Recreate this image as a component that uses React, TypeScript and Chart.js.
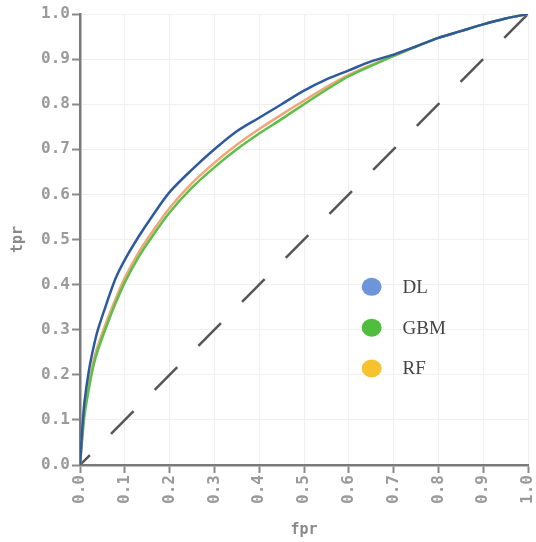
import React, { useEffect, useRef } from 'react';
import { Chart, registerables } from 'chart.js';

Chart.register(...registerables);

// False positive rate grid shared by the three ROC curves
const fprValues = [0, 0.005, 0.01, 0.02, 0.03, 0.04, 0.06, 0.08, 0.1, 0.13, 0.16, 0.2, 0.25, 0.3, 0.35, 0.4, 0.45, 0.5, 0.55, 0.6, 0.65, 0.7, 0.75, 0.8, 0.85, 0.9, 0.95, 1.0];
const tprDL = [0, 0.08, 0.14, 0.21, 0.26, 0.3, 0.36, 0.415, 0.455, 0.505, 0.55, 0.605, 0.655, 0.7, 0.74, 0.77, 0.8, 0.83, 0.855, 0.875, 0.895, 0.91, 0.928, 0.947, 0.962, 0.977, 0.99, 1.0];
const tprGBM = [0, 0.06, 0.11, 0.17, 0.22, 0.255, 0.31, 0.36, 0.405, 0.46, 0.505, 0.56, 0.615, 0.66, 0.7, 0.735, 0.767, 0.8, 0.832, 0.862, 0.885, 0.907, 0.928, 0.947, 0.962, 0.977, 0.99, 1.0];
const tprRF = [0, 0.065, 0.12, 0.18, 0.23, 0.265, 0.32, 0.37, 0.415, 0.47, 0.515, 0.57, 0.625, 0.67, 0.71, 0.745, 0.777, 0.808, 0.838, 0.865, 0.887, 0.907, 0.928, 0.947, 0.962, 0.977, 0.99, 1.0];
const diagonalValues = [0, 1];

const seriesNames = ['DL', 'GBM', 'RF'];
const lineColors = ['#2d5a9e', '#5cbf48', '#f0a678'];
const legendColors = ['#6e95da', '#4fbd3d', '#f6c22e'];

const tickFont = { family: "'DejaVu Sans Mono', monospace", size: 16, weight: 'bold' as const };
const titleFont = { family: "'DejaVu Sans Mono', monospace", size: 15, weight: 'bold' as const };

const innerLegend = {
  id: 'innerLegend',
  afterDraw(chart: any) {
    const { ctx, chartArea } = chart;
    const w = chartArea.right - chartArea.left;
    const h = chartArea.bottom - chartArea.top;
    const cx = chartArea.left + w * 0.651;
    const tx = chartArea.left + w * 0.72;
    const y0 = chartArea.top + h * 0.605;
    const step = h * 0.0905;
    ctx.save();
    seriesNames.forEach((name, i) => {
      const cy = y0 + i * step;
      ctx.beginPath();
      ctx.ellipse(cx, cy, 10, 9, 0, 0, Math.PI * 2);
      ctx.fillStyle = legendColors[i];
      ctx.fill();
      ctx.fillStyle = '#444';
      ctx.font = "19px 'Liberation Serif', serif";
      ctx.textBaseline = 'middle';
      ctx.textAlign = 'left';
      ctx.fillText(name, tx, cy + 1);
    });
    ctx.restore();
  },
};

export default function App() {
  const ref = useRef<HTMLCanvasElement>(null);
  useEffect(() => {
    if (!ref.current) return;
    const mk = (arr: number[]) => fprValues.map((f, i) => ({ x: f, y: arr[i] }));
    const chart = new Chart(ref.current, {
      type: 'line',
      data: {
        datasets: [
          { label: 'DL', data: mk(tprDL), borderColor: lineColors[0], borderWidth: 2.5, pointRadius: 0, tension: 0.3 },
          { label: 'GBM', data: mk(tprGBM), borderColor: lineColors[1], borderWidth: 2.5, pointRadius: 0, tension: 0.3 },
          { label: 'RF', data: mk(tprRF), borderColor: lineColors[2], borderWidth: 2.5, pointRadius: 0, tension: 0.3 },
          {
            label: 'diag',
            data: diagonalValues.map((v) => ({ x: v, y: v })),
            borderColor: '#555',
            borderWidth: 2.5,
            borderDash: [32, 30],
            borderDashOffset: 18,
            pointRadius: 0,
          },
        ],
      },
      options: {
        animation: false,
        responsive: false,
        layout: { padding: { top: 14, right: 8, left: 0, bottom: 0 } },
        plugins: { legend: { display: false }, tooltip: { enabled: false } },
        scales: {
          x: {
            type: 'linear',
            min: 0,
            max: 1,
            afterFit: (s: any) => { s.height = 77; s.paddingRight = 0; s.paddingLeft = 0; },
            border: { color: '#7a7a7a', width: 2.5 },
            grid: { color: '#efefef', tickColor: '#8a8a8a', tickLength: 8, tickWidth: 2 },
            ticks: {
              stepSize: 0.1,
              autoSkip: false,
              maxRotation: 90,
              minRotation: 90,
              padding: 2,
              color: '#9a9a9a',
              font: tickFont,
              callback: (v: any) => Number(v).toFixed(1),
            },
            title: { display: true, text: 'fpr', color: '#8a8a8a', font: titleFont, padding: { top: 0, bottom: 3 } },
          },
          y: {
            type: 'linear',
            min: 0,
            max: 1,
            afterFit: (s: any) => { s.width = 80; },
            border: { color: '#7a7a7a', width: 2.5 },
            grid: { color: '#efefef', tickColor: '#8a8a8a', tickLength: 8, tickWidth: 2 },
            ticks: {
              stepSize: 0.1,
              padding: 2,
              color: '#9a9a9a',
              font: tickFont,
              callback: (v: any) => Number(v).toFixed(1),
            },
            title: { display: true, text: 'tpr', color: '#8a8a8a', font: titleFont, padding: { top: 9, bottom: 0 } },
          },
        },
      },
      plugins: [innerLegend],
    });
    return () => chart.destroy();
  }, []);
  return (
    <div style={{ position: 'absolute', left: 0, top: 0, width: 536, height: 542, background: '#fff' }}>
      <canvas ref={ref} width={536} height={542} />
    </div>
  );
}
